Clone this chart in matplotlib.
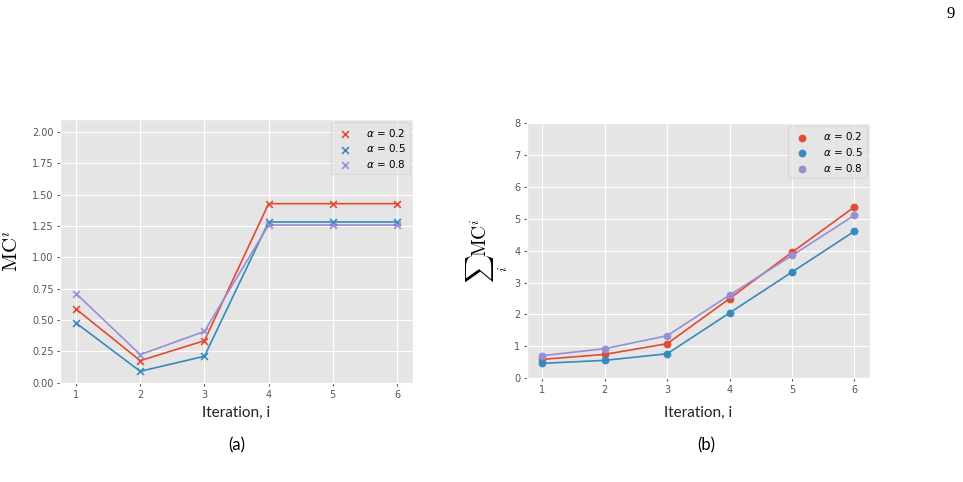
import numpy as np
import matplotlib
matplotlib.use("Agg")
import matplotlib.pyplot as plt

plt.style.use("ggplot")

iterations = [1, 2, 3, 4, 5, 6]
alphas = ["0.2", "0.5", "0.8"]
colors = ["#E24A33", "#348ABD", "#988ED5"]

# MC^i per iteration
mc_a02 = [0.588, 0.177, 0.336, 1.428, 1.428, 1.428]
mc_a05 = [0.477, 0.092, 0.212, 1.282, 1.282, 1.282]
mc_a08 = [0.712, 0.225, 0.410, 1.258, 1.258, 1.258]

# cumulative MC
cum_a02 = [0.594, 0.750, 1.085, 2.500, 3.950, 5.370]
cum_a05 = [0.470, 0.563, 0.770, 2.050, 3.330, 4.610]
cum_a08 = [0.710, 0.930, 1.335, 2.610, 3.850, 5.110]

mc_series = [mc_a02, mc_a05, mc_a08]
cum_series = [cum_a02, cum_a05, cum_a08]

fig = plt.figure(figsize=(9.63, 4.82), dpi=100)
fig.patch.set_facecolor("white")

ax1 = fig.add_axes([0.0623, 0.2044, 0.3666, 0.548])
ax2 = fig.add_axes([0.547, 0.2151, 0.3565, 0.5297])

for vals, c, a in zip(mc_series, colors, alphas):
    ax1.plot(iterations, vals, color=c, lw=1.2, zorder=2)
    ax1.scatter(iterations, vals, marker="x", color=c, s=24, lw=1.2,
                label=r"$\alpha$ = " + a, zorder=3)

for vals, c, a in zip(cum_series, colors, alphas):
    ax2.plot(iterations, vals, color=c, lw=1.2, zorder=2)
    ax2.scatter(iterations, vals, marker="o", color=c, s=26,
                label=r"$\alpha$ = " + a, zorder=3)

ax1.set_ylim(-0.005, 2.1)
ax1.set_yticks(np.arange(0, 2.01, 0.25))
ax1.set_yticklabels([f"{v:.2f}" for v in np.arange(0, 2.01, 0.25)])
ax2.set_ylim(0, 8)
ax2.set_yticks(range(0, 9))

for ax in (ax1, ax2):
    ax.set_xticks(iterations)
    ax.tick_params(labelsize=7, colors="#555555", length=2.5, pad=2)
    ax.set_xlabel("Iteration, i", family="Lato", fontsize=11, color="#222222")
    leg = ax.legend(loc="upper right", fontsize=7.5, scatterpoints=1,
                    handletextpad=1.0, borderpad=0.4, labelspacing=0.35,
                    borderaxespad=0.3)
    leg.get_frame().set_facecolor("#E5E5E5")
    leg.get_frame().set_edgecolor("#CCCCCC")

ax1.xaxis.set_label_coords(0.5, -0.085)
ax2.xaxis.set_label_coords(0.5, -0.108)

ax1.set_ylabel(r"$\mathrm{MC}^i$", fontsize=15, color="black",
               math_fontfamily="cm")
ax1.yaxis.set_label_coords(-0.106, 0.5)
ax2.set_ylabel(r"$\sum_i \mathrm{MC}^i$", fontsize=14, color="black",
               math_fontfamily="cm")
ax2.yaxis.set_label_coords(-0.048, 0.5)

fig.text(237 / 963, 1 - 445 / 482, "(a)", family="Lato", fontsize=12,
         ha="center", va="center")
fig.text(706 / 963, 1 - 445 / 482, "(b)", family="Lato", fontsize=12,
         ha="center", va="center")
fig.text(951 / 963, 1 - 14 / 482, "9", family="Liberation Serif", fontsize=12,
         ha="center", va="center")

fig.savefig("out.png", dpi=100, facecolor="white")
